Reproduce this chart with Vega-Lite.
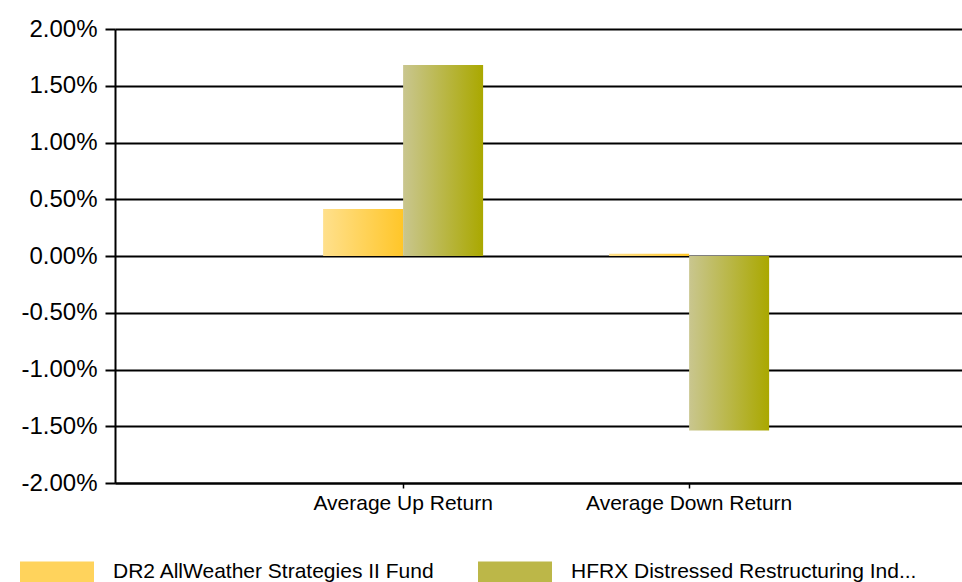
{
  "$schema": "https://vega.github.io/schema/vega-lite/v6.json",
  "width": 847,
  "height": 454,
  "autosize": {"type": "none"},
  "padding": {"left": 115, "top": 29, "right": 0, "bottom": 99},
  "data": {
    "values": [
      {"measure": "Average Up Return", "series": "DR2 AllWeather Strategies II Fund", "value": 0.00414},
      {"measure": "Average Up Return", "series": "HFRX  Distressed  Restructuring Ind...", "value": 0.01683},
      {"measure": "Average Down Return", "series": "DR2 AllWeather Strategies II Fund", "value": 0.0002},
      {"measure": "Average Down Return", "series": "HFRX  Distressed  Restructuring Ind...", "value": -0.01537}
    ]
  },
  "encoding": {
    "x": {
      "field": "measure",
      "type": "nominal",
      "sort": ["Average Up Return", "Average Down Return"],
      "scale": {"paddingInner": 0.4406, "paddingOuter": 0.701, "align": 0.519},
      "axis": {
        "title": null,
        "labelAngle": 0,
        "labelFontSize": 21,
        "labelLimit": 400,
        "labelColor": "#000000",
        "labelPadding": 4,
        "tickSize": 5,
        "tickColor": "#000000",
        "tickWidth": 1.5,
        "domainColor": "#000000",
        "domainWidth": 2
      }
    },
    "xOffset": {
      "field": "series",
      "sort": ["DR2 AllWeather Strategies II Fund", "HFRX  Distressed  Restructuring Ind..."],
      "scale": {"paddingInner": 0, "paddingOuter": 0}
    },
    "y": {
      "field": "value",
      "type": "quantitative",
      "scale": {"domain": [-0.02, 0.02], "nice": false},
      "axis": {
        "title": null,
        "format": ".2%",
        "labelExpr": "replace(datum.label, '\u2212', '-')",
        "values": [-0.02, -0.015, -0.01, -0.005, 0, 0.005, 0.01, 0.015, 0.02],
        "labelFontSize": 24,
        "labelColor": "#000000",
        "labelPadding": 8,
        "tickSize": 10,
        "tickColor": "#000000",
        "tickWidth": 2,
        "domainColor": "#000000",
        "domainWidth": 2,
        "grid": true,
        "gridColor": "#000000",
        "gridWidth": 2,
        "gridOpacity": 1
      }
    }
  },
  "layer": [
    {
      "mark": {"type": "bar", "strokeWidth": 0},
      "encoding": {
        "fill": {
          "condition": {
            "test": "datum.series === 'DR2 AllWeather Strategies II Fund'",
            "value": {"gradient": "linear", "x1": 0, "y1": 0, "x2": 1, "y2": 0, "stops": [{"offset": 0, "color": "#ffe08c"}, {"offset": 1, "color": "#ffc629"}]}
          },
          "value": {"gradient": "linear", "x1": 0, "y1": 0, "x2": 1, "y2": 0, "stops": [{"offset": 0, "color": "#c9c68f"}, {"offset": 1, "color": "#aaa800"}]}
        }
      }
    },
    {
      "transform": [{"filter": "false"}],
      "mark": {"type": "bar", "strokeWidth": 0},
      "encoding": {
        "color": {
          "field": "series",
          "type": "nominal",
          "scale": {
            "domain": ["DR2 AllWeather Strategies II Fund", "HFRX  Distressed  Restructuring Ind..."],
            "range": ["#ffd35c", "#bcb748"]
          },
          "legend": {
            "title": null,
            "orient": "none",
            "legendX": -95,
            "legendY": 506,
            "padding": 0,
            "direction": "horizontal",
            "columns": 2,
            "columnPadding": 43,
            "symbolType": "M-1,-0.29H1V0.29H-1Z",
            "symbolSize": 5476,
            "symbolStrokeWidth": 0,
            "symbolOpacity": 1,
            "labelFontSize": 21,
            "labelColor": "#000000",
            "labelOffset": 19,
            "labelLimit": 500
          }
        }
      }
    }
  ],
  "config": {
    "view": {"stroke": null},
    "font": "Liberation Sans",
    "bar": {"opacity": 1}
  }
}
